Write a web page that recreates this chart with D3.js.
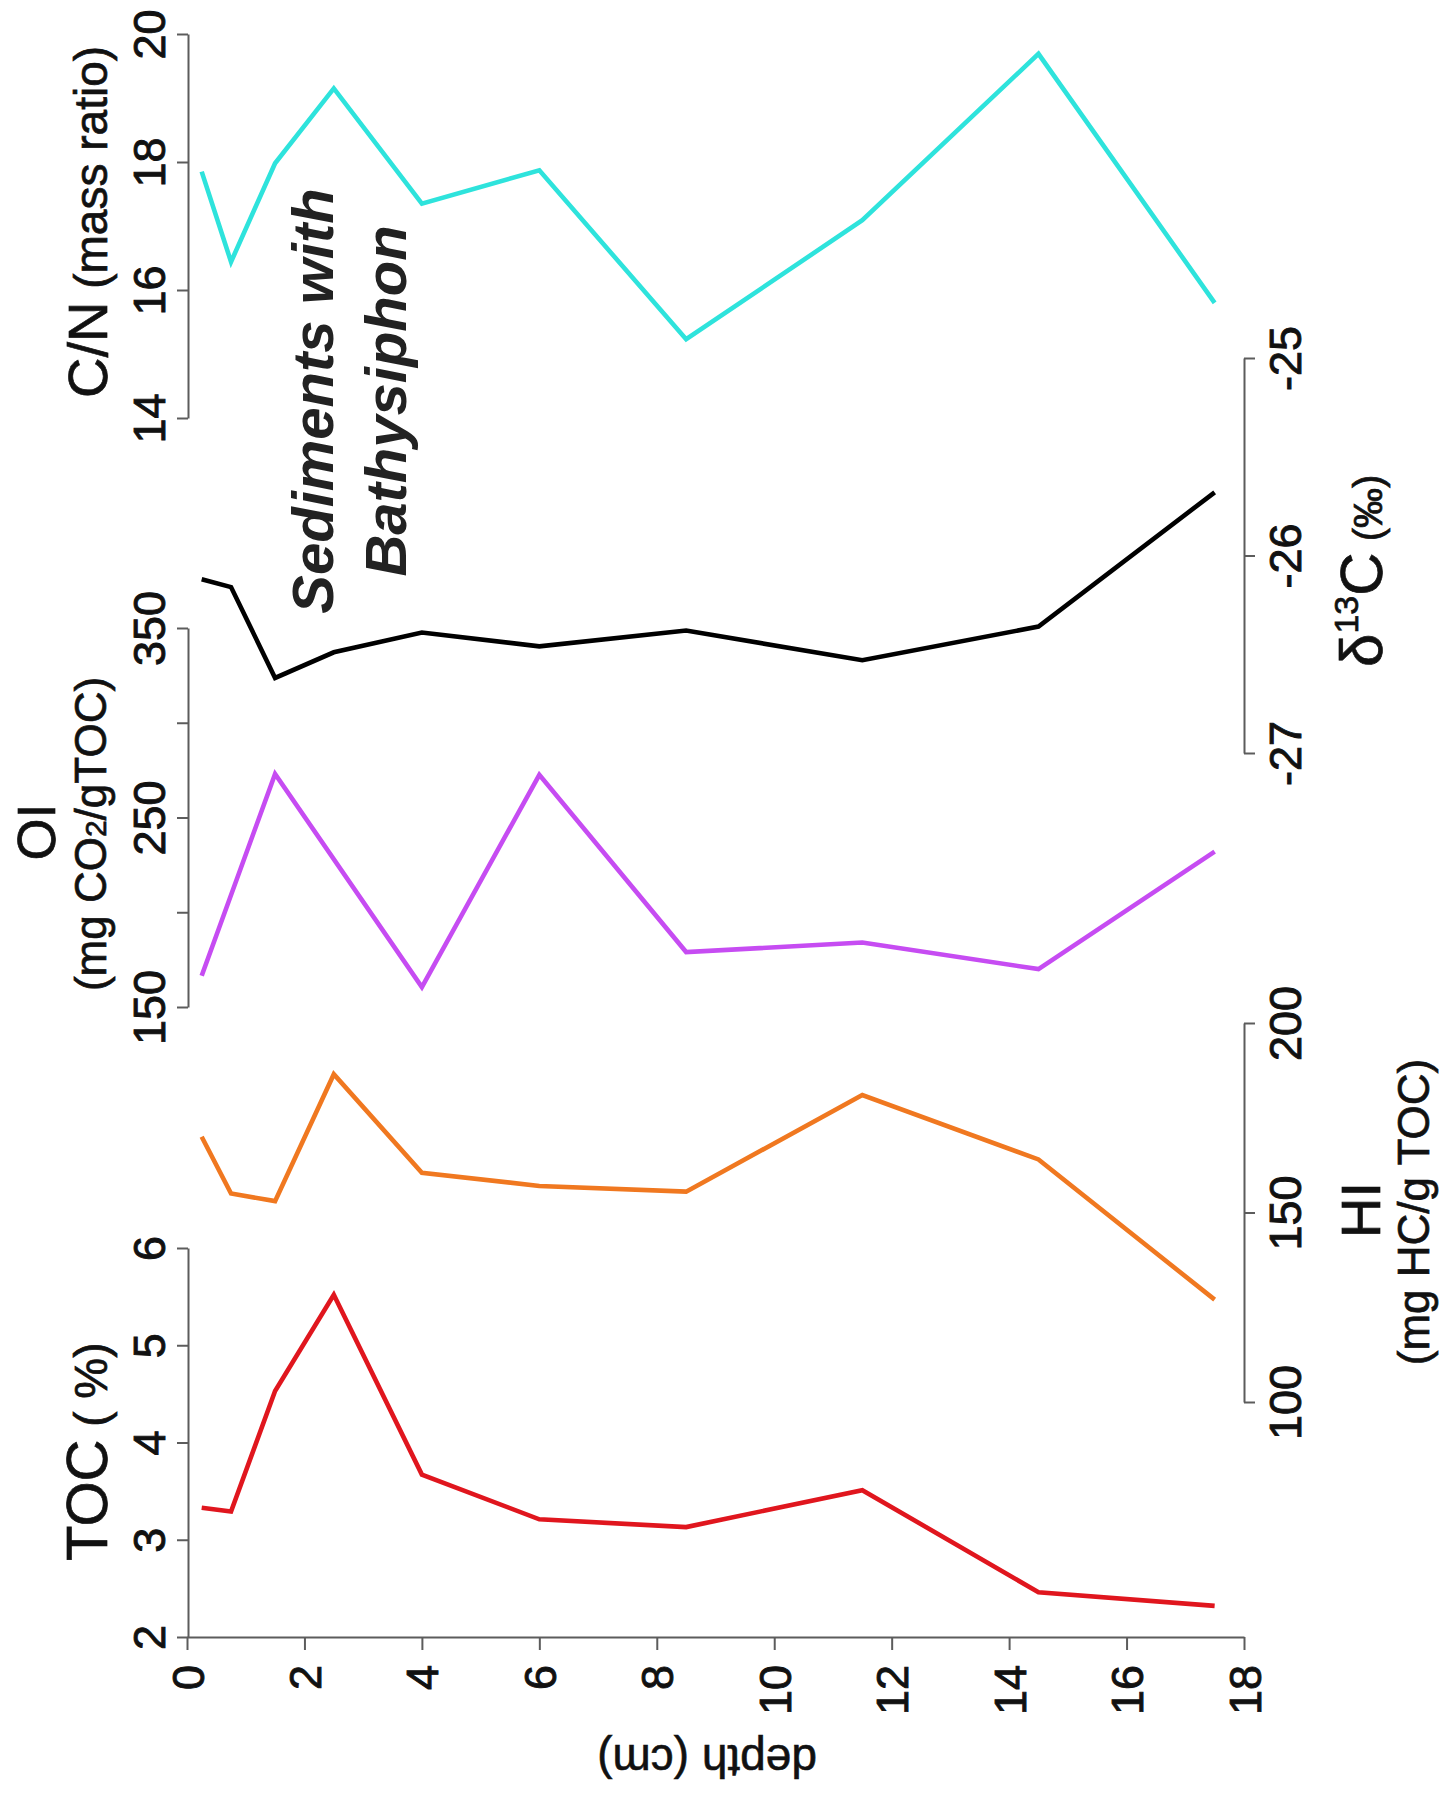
<!DOCTYPE html>
<html>
<head>
<meta charset="utf-8">
<script src="https://cdn.jsdelivr.net/npm/d3@7"></script>
<style>
  body { margin: 0; background: #fff; }
  svg { display: block; }
  text { paint-order: stroke; }
</style>
</head>
<body>
<svg id="chart" width="1449" height="1797"></svg>
<script>
// ---- data: sediment core profiles against depth (cm) ----
const depthTicks = [0, 2, 4, 6, 8, 10, 12, 14, 16, 18];
const sampleDepths = [0.25, 0.75, 1.5, 2.5, 4, 6, 8.5, 11.5, 14.5, 17.5];
const oiDepths = [0.25, 1.5, 4, 6, 8.5, 11.5, 14.5, 17.5];

const tocValues = [3.33, 3.29, 4.53, 5.52, 3.67, 3.21, 3.13, 3.51, 2.46, 2.32];
const hiValues = [170, 155, 153, 186.5, 160.5, 157, 155.5, 181, 164, 127];
const oiValues = [166.5, 273, 160.5, 272.5, 179, 184, 170, 232];
const d13cValues = [-26.12, -26.16, -26.62, -26.49, -26.39, -26.46, -26.38, -26.53, -26.36, -25.68];
const cnValues = [17.85, 16.44, 17.98, 19.15, 17.35, 17.87, 15.23, 17.09, 19.69, 15.8];

const tocTicks = [2, 3, 4, 5, 6];
const hiTicks = [100, 150, 200];
const oiTicks = [150, 200, 250, 300, 350];
const oiTickLabels = [150, 250, 350];
const d13cTicks = [-27, -26, -25];
const cnTicks = [14, 16, 18, 20];

// ---- drawing ----
const FONT = '"Liberation Sans", Arial, Helvetica, sans-serif';
const AXIS = '#5c5c5c';
const INK = '#111';
const svg = d3.select('#chart').style('font-family', FONT);

const x = d3.scaleLinear().domain([0, 18]).range([187, 1244]);
const AXL = 188, AXR = 1244, AXB = 1637;

function ink(sel, w) {
  return sel.attr('fill', INK).attr('stroke', INK).attr('stroke-width', w);
}

function styleAxis(g) {
  g.select('.domain').attr('stroke', AXIS).attr('stroke-width', 2);
  g.selectAll('.tick line').attr('stroke', AXIS).attr('stroke-width', 2);
  ink(g.selectAll('.tick text'), 0.9)
    .attr('font-family', FONT)
    .attr('font-size', 45)
    .attr('dy', null);
}

// depth axis along the bottom
const gx = svg.append('g')
  .attr('transform', `translate(0,${AXB})`)
  .call(d3.axisBottom(x).tickValues(depthTicks).tickSize(13).tickSizeOuter(0).tickFormat(d3.format('d')));
styleAxis(gx);
gx.selectAll('.tick text')
  .attr('transform', 'rotate(-90)')
  .attr('text-anchor', 'end')
  .attr('x', -28)
  .attr('y', 16);

ink(svg.append('text'), 0.6)
  .attr('transform', 'translate(707,1745) rotate(180)')
  .attr('text-anchor', 'middle')
  .attr('font-size', 46)
  .text('depth (cm)');

const fmt = d => String(d);

function panel({ domain, range, side, ticks, labels, depths, values, color }) {
  const y = d3.scaleLinear().domain(domain).range(range);
  const axis = (side === 'left' ? d3.axisLeft(y) : d3.axisRight(y))
    .tickValues(ticks).tickSize(11).tickSizeOuter(0)
    .tickFormat(d => (labels ? (labels.includes(d) ? fmt(d) : '') : fmt(d)));
  const g = svg.append('g')
    .attr('transform', `translate(${side === 'left' ? AXL : AXR},0)`)
    .call(axis);
  styleAxis(g);
  g.selectAll('.tick text')
    .attr('transform', 'rotate(-90)')
    .attr('text-anchor', 'middle')
    .attr('x', 0)
    .attr('y', side === 'left' ? -23 : 57);

  const pts = depths.map((dp, i) => [dp, values[i]]);
  svg.append('path')
    .datum(pts)
    .attr('fill', 'none')
    .attr('stroke', color)
    .attr('stroke-width', 4.6)
    .attr('stroke-linejoin', 'miter')
    .attr('stroke-linecap', 'butt')
    .attr('d', d3.line().x(d => x(d[0])).y(d => y(d[1])));
  return y;
}

panel({ domain: [2, 6], range: [1637, 1248], side: 'left', ticks: tocTicks,
  depths: sampleDepths, values: tocValues, color: '#e0161e' });
panel({ domain: [100, 200], range: [1402, 1023], side: 'right', ticks: hiTicks,
  depths: sampleDepths, values: hiValues, color: '#f07820' });
panel({ domain: [150, 350], range: [1007, 628], side: 'left', ticks: oiTicks, labels: oiTickLabels,
  depths: oiDepths, values: oiValues, color: '#c64cf2' });
panel({ domain: [-27, -25], range: [753, 358], side: 'right', ticks: d13cTicks,
  depths: sampleDepths, values: d13cValues, color: '#000000' });
panel({ domain: [14, 20], range: [418, 34], side: 'left', ticks: cnTicks,
  depths: sampleDepths, values: cnValues, color: '#2ee3dc' });

// ---- rotated axis titles ----
function vtext(xb, yc, anchor, w) {
  return ink(svg.append('text'), w === undefined ? 0.7 : w)
    .attr('transform', `translate(${xb},${yc}) rotate(-90)`)
    .attr('text-anchor', anchor);
}

// TOC ( %)
const toc = vtext(107, 1561, 'start');
toc.append('tspan').attr('font-size', 58).text('TOC');
toc.append('tspan').attr('font-size', 46).text(' ( %)');

// C/N (mass ratio)
const cn = vtext(107, 398, 'start');
cn.append('tspan').attr('font-size', 56).text('C/N');
cn.append('tspan').attr('font-size', 46).text(' (mass ratio)');

// OI
vtext(55, 832, 'middle').attr('font-size', 54).text('OI');
const oiu = vtext(106, 834, 'middle').attr('font-size', 44);
oiu.append('tspan').text('(mg CO');
oiu.append('tspan').attr('font-size', 30).text('2');
oiu.append('tspan').text('/gTOC)');

// HI
vtext(1380, 1210, 'middle').attr('font-size', 56).text('HI');
vtext(1429, 1212, 'middle').attr('font-size', 44).text('(mg HC/g TOC)');

// δ13C (‰)
const dc = vtext(1382, 667, 'start');
dc.append('tspan').attr('font-size', 60).text('δ');
dc.append('tspan').attr('font-size', 34).attr('dy', -24).text('13');
dc.append('tspan').attr('font-size', 60).attr('dy', 24).text('C');
dc.append('tspan').attr('font-size', 40).text(' (‰)');

// habitat annotation
const ann = svg.append('g').attr('fill', '#222')
  .attr('font-weight', 'bold').attr('font-style', 'italic').attr('font-size', 58);
ann.append('text').attr('transform', 'translate(333,401) rotate(-90)')
  .attr('text-anchor', 'middle').text('Sediments with');
ann.append('text').attr('transform', 'translate(406,401) rotate(-90)')
  .attr('text-anchor', 'middle').text('Bathysiphon');
</script>
</body>
</html>
